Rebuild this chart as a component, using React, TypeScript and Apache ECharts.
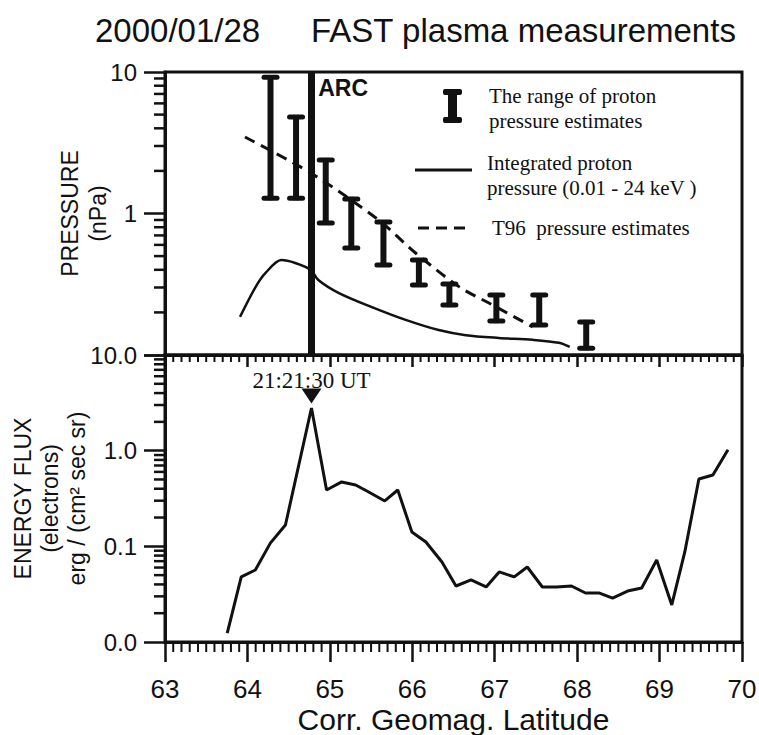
import React, { useEffect, useRef } from "react";
import * as echarts from "echarts";

// ---- texts ----
const TITLE_DATE = "2000/01/28";
const TITLE_TEXT = "FAST plasma measurements";
const X_NAME = "Corr. Geomag. Latitude";
const TOP_Y_NAME = "PRESSURE\n(nPa)";
const BOTTOM_Y_NAME = "ENERGY FLUX\n(electrons)\nerg / (cm² sec sr)";
const ARC_LABEL = "ARC";
const PEAK_LABEL = "21:21:30 UT";
const LEGEND_RANGE = "The range of proton\npressure estimates";
const LEGEND_INTEGRATED = "Integrated proton\npressure (0.01 - 24 keV )";
const LEGEND_T96 = "T96  pressure estimates";

// ---- axes ----
const X_MIN = 63;
const X_MAX = 70;
const X_MINOR_PER_UNIT = 10;
const TOP_Y_MIN = 0.1;
const TOP_Y_MAX = 10;
const BOTTOM_Y_MIN = 0.01;
const BOTTOM_Y_MAX = 10;
const LOG_MINOR_STEPS = [2, 3, 4, 5, 6, 7, 8, 9];
const TOP_DECADES = [0.1, 1];
const BOTTOM_DECADES = [0.01, 0.1, 1];

// ---- data: top panel ----
const ARC_LAT = 64.78;

const INTEGRATED_LAT = [63.91, 64.1, 64.22, 64.41, 64.58, 64.77, 64.86, 65.11, 65.51, 65.92, 66.32, 66.65, 67.05, 67.46, 67.78, 67.91];
const INTEGRATED_P = [0.186, 0.303, 0.38, 0.469, 0.447, 0.399, 0.339, 0.274, 0.218, 0.177, 0.15, 0.138, 0.132, 0.128, 0.122, 0.114];

const T96_LAT = [63.97, 64.77, 65.59, 66.04, 66.57, 66.93, 67.46];
const T96_P = [3.47, 1.93, 0.9, 0.526, 0.303, 0.233, 0.158];

const RANGE_LAT = [64.28, 64.59, 64.95, 65.26, 65.65, 66.08, 66.45, 67.02, 67.54, 68.11];
const RANGE_HIGH = [9.5, 4.97, 2.47, 1.31, 0.9, 0.485, 0.328, 0.274, 0.274, 0.177];
const RANGE_LOW = [1.24, 1.24, 0.83, 0.552, 0.419, 0.303, 0.218, 0.168, 0.158, 0.108];

// ---- data: bottom panel ----
const FLUX_LAT = [63.755, 63.925, 64.096, 64.278, 64.461, 64.777, 64.96, 65.143, 65.313, 65.471, 65.666, 65.824, 65.995, 66.165, 66.36, 66.53, 66.713, 66.896, 67.054, 67.237, 67.395, 67.578, 67.748, 67.931, 68.101, 68.271, 68.43, 68.612, 68.783, 68.965, 69.148, 69.306, 69.477, 69.647, 69.83];
const FLUX_VAL = [0.0124, 0.0479, 0.0566, 0.108, 0.167, 2.79, 0.388, 0.471, 0.438, 0.37, 0.298, 0.388, 0.141, 0.111, 0.0686, 0.0385, 0.0445, 0.0376, 0.054, 0.0479, 0.0608, 0.0376, 0.0376, 0.0385, 0.0325, 0.0325, 0.0288, 0.0341, 0.0367, 0.072, 0.0244, 0.0873, 0.506, 0.557, 1.02];

const INK = "#111";
const SANS = "Liberation Sans, Arial, sans-serif";
const SERIF = "Liberation Serif, Times New Roman, serif";

// ---- layout ----
const CHART_W = 759;
const CHART_H = 735;
const GRID_LEFT = 165;
const GRID_RIGHT = 17;
const TOP_GRID = { top: 72, height: 283 };
const BOTTOM_GRID = { top: 355, height: 287 };

function rangeRenderer(params: any, api: any) {
  const x = api.value(0);
  const lo = api.value(1);
  const hi = api.value(2);
  const top = api.coord([x, hi]);
  const bot = api.coord([x, lo]);
  const capW = 6.5;
  return {
    type: "group",
    children: [
      {
        type: "line",
        shape: { x1: top[0], y1: top[1], x2: bot[0], y2: bot[1] },
        style: { stroke: INK, lineWidth: 6 },
      },
      {
        type: "line",
        shape: { x1: top[0] - capW, y1: top[1] + 2, x2: top[0] + capW, y2: top[1] + 2 },
        style: { stroke: INK, lineWidth: 5, lineCap: "round" },
      },
      {
        type: "line",
        shape: { x1: bot[0] - capW, y1: bot[1] - 2, x2: bot[0] + capW, y2: bot[1] - 2 },
        style: { stroke: INK, lineWidth: 5, lineCap: "round" },
      },
    ],
  };
}

const legendGraphics: any[] = [
  { type: "rect", shape: { x: 448, y: 91, width: 9, height: 30 }, style: { fill: INK } },
  { type: "rect", shape: { x: 443, y: 89, width: 19, height: 6, r: 2 }, style: { fill: INK } },
  { type: "rect", shape: { x: 443, y: 117, width: 19, height: 6, r: 2 }, style: { fill: INK } },
  {
    type: "text",
    x: 489,
    y: 83,
    style: { text: LEGEND_RANGE, fontSize: 21, lineHeight: 25, fontFamily: SERIF, fill: INK },
  },
  { type: "line", shape: { x1: 415, y1: 170, x2: 472, y2: 170 }, style: { stroke: INK, lineWidth: 3 } },
  {
    type: "text",
    x: 487,
    y: 150,
    style: { text: LEGEND_INTEGRATED, fontSize: 21, lineHeight: 25, fontFamily: SERIF, fill: INK },
  },
  { type: "line", shape: { x1: 418, y1: 228, x2: 470, y2: 228 }, style: { stroke: INK, lineWidth: 3, lineDash: [11, 7] } },
  {
    type: "text",
    x: 492,
    y: 228,
    style: { text: LEGEND_T96, fontSize: 21, fontFamily: SERIF, fill: INK, verticalAlign: "middle" },
  },
];

// minor tick decoration (axis furniture), placed on the same geometry as the grids
function minorTickGraphics(): any[] {
  const out: any[] = [];
  const plotW = CHART_W - GRID_LEFT - GRID_RIGHT;
  const yLog = (g: { top: number; height: number }, min: number, max: number, v: number) =>
    g.top + (g.height * (Math.log10(max) - Math.log10(v))) / (Math.log10(max) - Math.log10(min));
  const addY = (g: { top: number; height: number }, min: number, max: number, decades: number[]) => {
    decades.forEach((d) =>
      LOG_MINOR_STEPS.forEach((m) => {
        const y = yLog(g, min, max, m * d);
        out.push({
          type: "line",
          silent: true,
          z: 100,
          shape: { x1: GRID_LEFT - 11, y1: y, x2: GRID_LEFT, y2: y },
          style: { stroke: INK, lineWidth: 2.5 },
        });
      })
    );
  };
  addY(TOP_GRID, TOP_Y_MIN, TOP_Y_MAX, TOP_DECADES);
  addY(BOTTOM_GRID, BOTTOM_Y_MIN, BOTTOM_Y_MAX, BOTTOM_DECADES);

  const addX = (yBase: number, len: number) => {
    const n = (X_MAX - X_MIN) * X_MINOR_PER_UNIT;
    for (let k = 1; k < n; k++) {
      if (k % X_MINOR_PER_UNIT === 0) continue;
      const x = GRID_LEFT + (plotW * k) / n;
      out.push({
        type: "line",
        silent: true,
        z: 100,
        shape: { x1: x, y1: yBase, x2: x, y2: yBase + len },
        style: { stroke: INK, lineWidth: 2 },
      });
    }
  };
  addX(TOP_GRID.top + TOP_GRID.height, 7);
  addX(BOTTOM_GRID.top + BOTTOM_GRID.height, 10);
  return out;
}

export default function App() {
  const ref = useRef<HTMLDivElement>(null);

  useEffect(() => {
    if (!ref.current) return;
    const chart = echarts.init(ref.current, null, { renderer: "svg" });

    const peakIdx = FLUX_VAL.indexOf(Math.max(...FLUX_VAL));

    const axisLine = { show: true, onZero: false, lineStyle: { color: INK, width: 3 } };
    const gridBase = {
      left: GRID_LEFT,
      right: GRID_RIGHT,
      show: true,
      borderColor: INK,
      borderWidth: 3,
      backgroundColor: "transparent",
      containLabel: false,
      outerBoundsMode: "none",
    };

    const option: any = {
      animation: false,
      backgroundColor: "#fff",
      title: [
        {
          text: TITLE_DATE,
          left: 95,
          top: 14,
          padding: 0,
          textStyle: { fontSize: 33, fontWeight: "normal", fontFamily: SANS, color: INK },
        },
        {
          text: TITLE_TEXT,
          left: 311,
          top: 14,
          padding: 0,
          textStyle: { fontSize: 33, fontWeight: "normal", fontFamily: SANS, color: INK },
        },
      ],
      grid: [
        { ...gridBase, top: TOP_GRID.top, height: TOP_GRID.height },
        { ...gridBase, top: BOTTOM_GRID.top, height: BOTTOM_GRID.height },
      ],
      xAxis: [
        {
          gridIndex: 0,
          type: "value",
          position: "bottom",
          min: X_MIN,
          max: X_MAX,
          interval: 1,
          axisLine,
          axisTick: { show: true, length: 12, lineStyle: { color: INK, width: 2.5 } },
          axisLabel: { show: false },
          splitLine: { show: false },
        },
        {
          gridIndex: 1,
          type: "value",
          position: "bottom",
          min: X_MIN,
          max: X_MAX,
          interval: 1,
          axisLine,
          axisTick: { show: true, length: 20, lineStyle: { color: INK, width: 2.5 } },
          axisLabel: { fontSize: 26, margin: 34, color: INK, fontFamily: SANS },
          splitLine: { show: false },
          name: X_NAME,
          nameLocation: "middle",
          nameGap: 62,
          nameMoveOverlap: false,
          nameTextStyle: { fontSize: 30, color: INK, fontFamily: SANS },
        },
      ],
      yAxis: [
        {
          gridIndex: 0,
          type: "log",
          logBase: 10,
          position: "left",
          min: TOP_Y_MIN,
          max: TOP_Y_MAX,
          axisLine,
          axisTick: { show: true, length: 21, lineStyle: { color: INK, width: 2.5 } },
          axisLabel: {
            fontSize: 24,
            margin: 28,
            color: INK,
            fontFamily: SANS,
            formatter: (v: number) => {
              const r = Math.round(v * 100) / 100;
              if (r >= 9.9) return "10";
              if (r >= 0.99) return "1";
              return "";
            },
          },
          splitLine: { show: false },
          name: TOP_Y_NAME,
          nameLocation: "middle",
          nameRotate: 90,
          nameGap: 53,
          nameMoveOverlap: false,
          nameTextStyle: { fontSize: 23, lineHeight: 28, color: INK, fontFamily: SANS },
        },
        {
          gridIndex: 1,
          type: "log",
          logBase: 10,
          position: "left",
          min: BOTTOM_Y_MIN,
          max: BOTTOM_Y_MAX,
          axisLine,
          axisTick: { show: true, length: 21, lineStyle: { color: INK, width: 2.5 } },
          axisLabel: {
            fontSize: 24,
            margin: 28,
            color: INK,
            fontFamily: SANS,
            formatter: (v: number) => v.toFixed(1),
          },
          splitLine: { show: false },
          name: BOTTOM_Y_NAME,
          nameLocation: "middle",
          nameRotate: 90,
          nameGap: 75,
          nameMoveOverlap: false,
          nameTextStyle: { fontSize: 23, lineHeight: 27, color: INK, fontFamily: SANS },
        },
      ],
      series: [
        {
          name: "Integrated proton pressure",
          type: "line",
          xAxisIndex: 0,
          yAxisIndex: 0,
          data: INTEGRATED_LAT.map((x, i) => [x, INTEGRATED_P[i]]),
          symbol: "none",
          smooth: 0.3,
          lineStyle: { color: INK, width: 2.5 },
          z: 3,
          markLine: {
            silent: true,
            symbol: ["none", "none"],
            label: { show: false },
            lineStyle: { color: INK, width: 7, type: "solid" },
            data: [{ xAxis: ARC_LAT }],
          },
          markPoint: {
            silent: true,
            symbol: "circle",
            symbolSize: 1,
            itemStyle: { color: "transparent" },
            label: {
              show: true,
              position: "right",
              distance: 6,
              offset: [0, 16],
              formatter: ARC_LABEL,
              fontSize: 23,
              fontWeight: "bold",
              fontFamily: SANS,
              color: INK,
            },
            data: [{ coord: [ARC_LAT, TOP_Y_MAX] }],
          },
        },
        {
          name: "T96 pressure estimates",
          type: "line",
          xAxisIndex: 0,
          yAxisIndex: 0,
          data: T96_LAT.map((x, i) => [x, T96_P[i]]),
          symbol: "none",
          smooth: 0.3,
          lineStyle: { color: INK, width: 3, type: [11, 7] },
          z: 3,
        },
        {
          name: "Range of proton pressure estimates",
          type: "custom",
          xAxisIndex: 0,
          yAxisIndex: 0,
          data: RANGE_LAT.map((x, i) => [x, RANGE_LOW[i], RANGE_HIGH[i]]),
          encode: { x: 0, y: [1, 2] },
          renderItem: rangeRenderer,
          z: 4,
        },
        {
          name: "Electron energy flux",
          type: "line",
          xAxisIndex: 1,
          yAxisIndex: 1,
          data: FLUX_LAT.map((x, i) => [x, FLUX_VAL[i]]),
          symbol: "none",
          lineStyle: { color: INK, width: 3 },
          markPoint: {
            silent: true,
            symbol: "path://M0 0 L20 0 L10 15 Z",
            symbolSize: [20, 15],
            symbolOffset: [0, -12],
            itemStyle: { color: INK },
            label: {
              show: true,
              position: "top",
              distance: -3,
              formatter: PEAK_LABEL,
              fontSize: 23,
              fontFamily: SERIF,
              color: INK,
            },
            data: [{ coord: [FLUX_LAT[peakIdx], FLUX_VAL[peakIdx]] }],
          },
        },
      ],
      graphic: [...legendGraphics, ...minorTickGraphics()],
    };

    chart.setOption(option);
    return () => chart.dispose();
  }, []);

  return (
    <div
      ref={ref}
      style={{ position: "absolute", left: 0, top: 0, width: CHART_W, height: CHART_H, background: "#fff" }}
    />
  );
}
